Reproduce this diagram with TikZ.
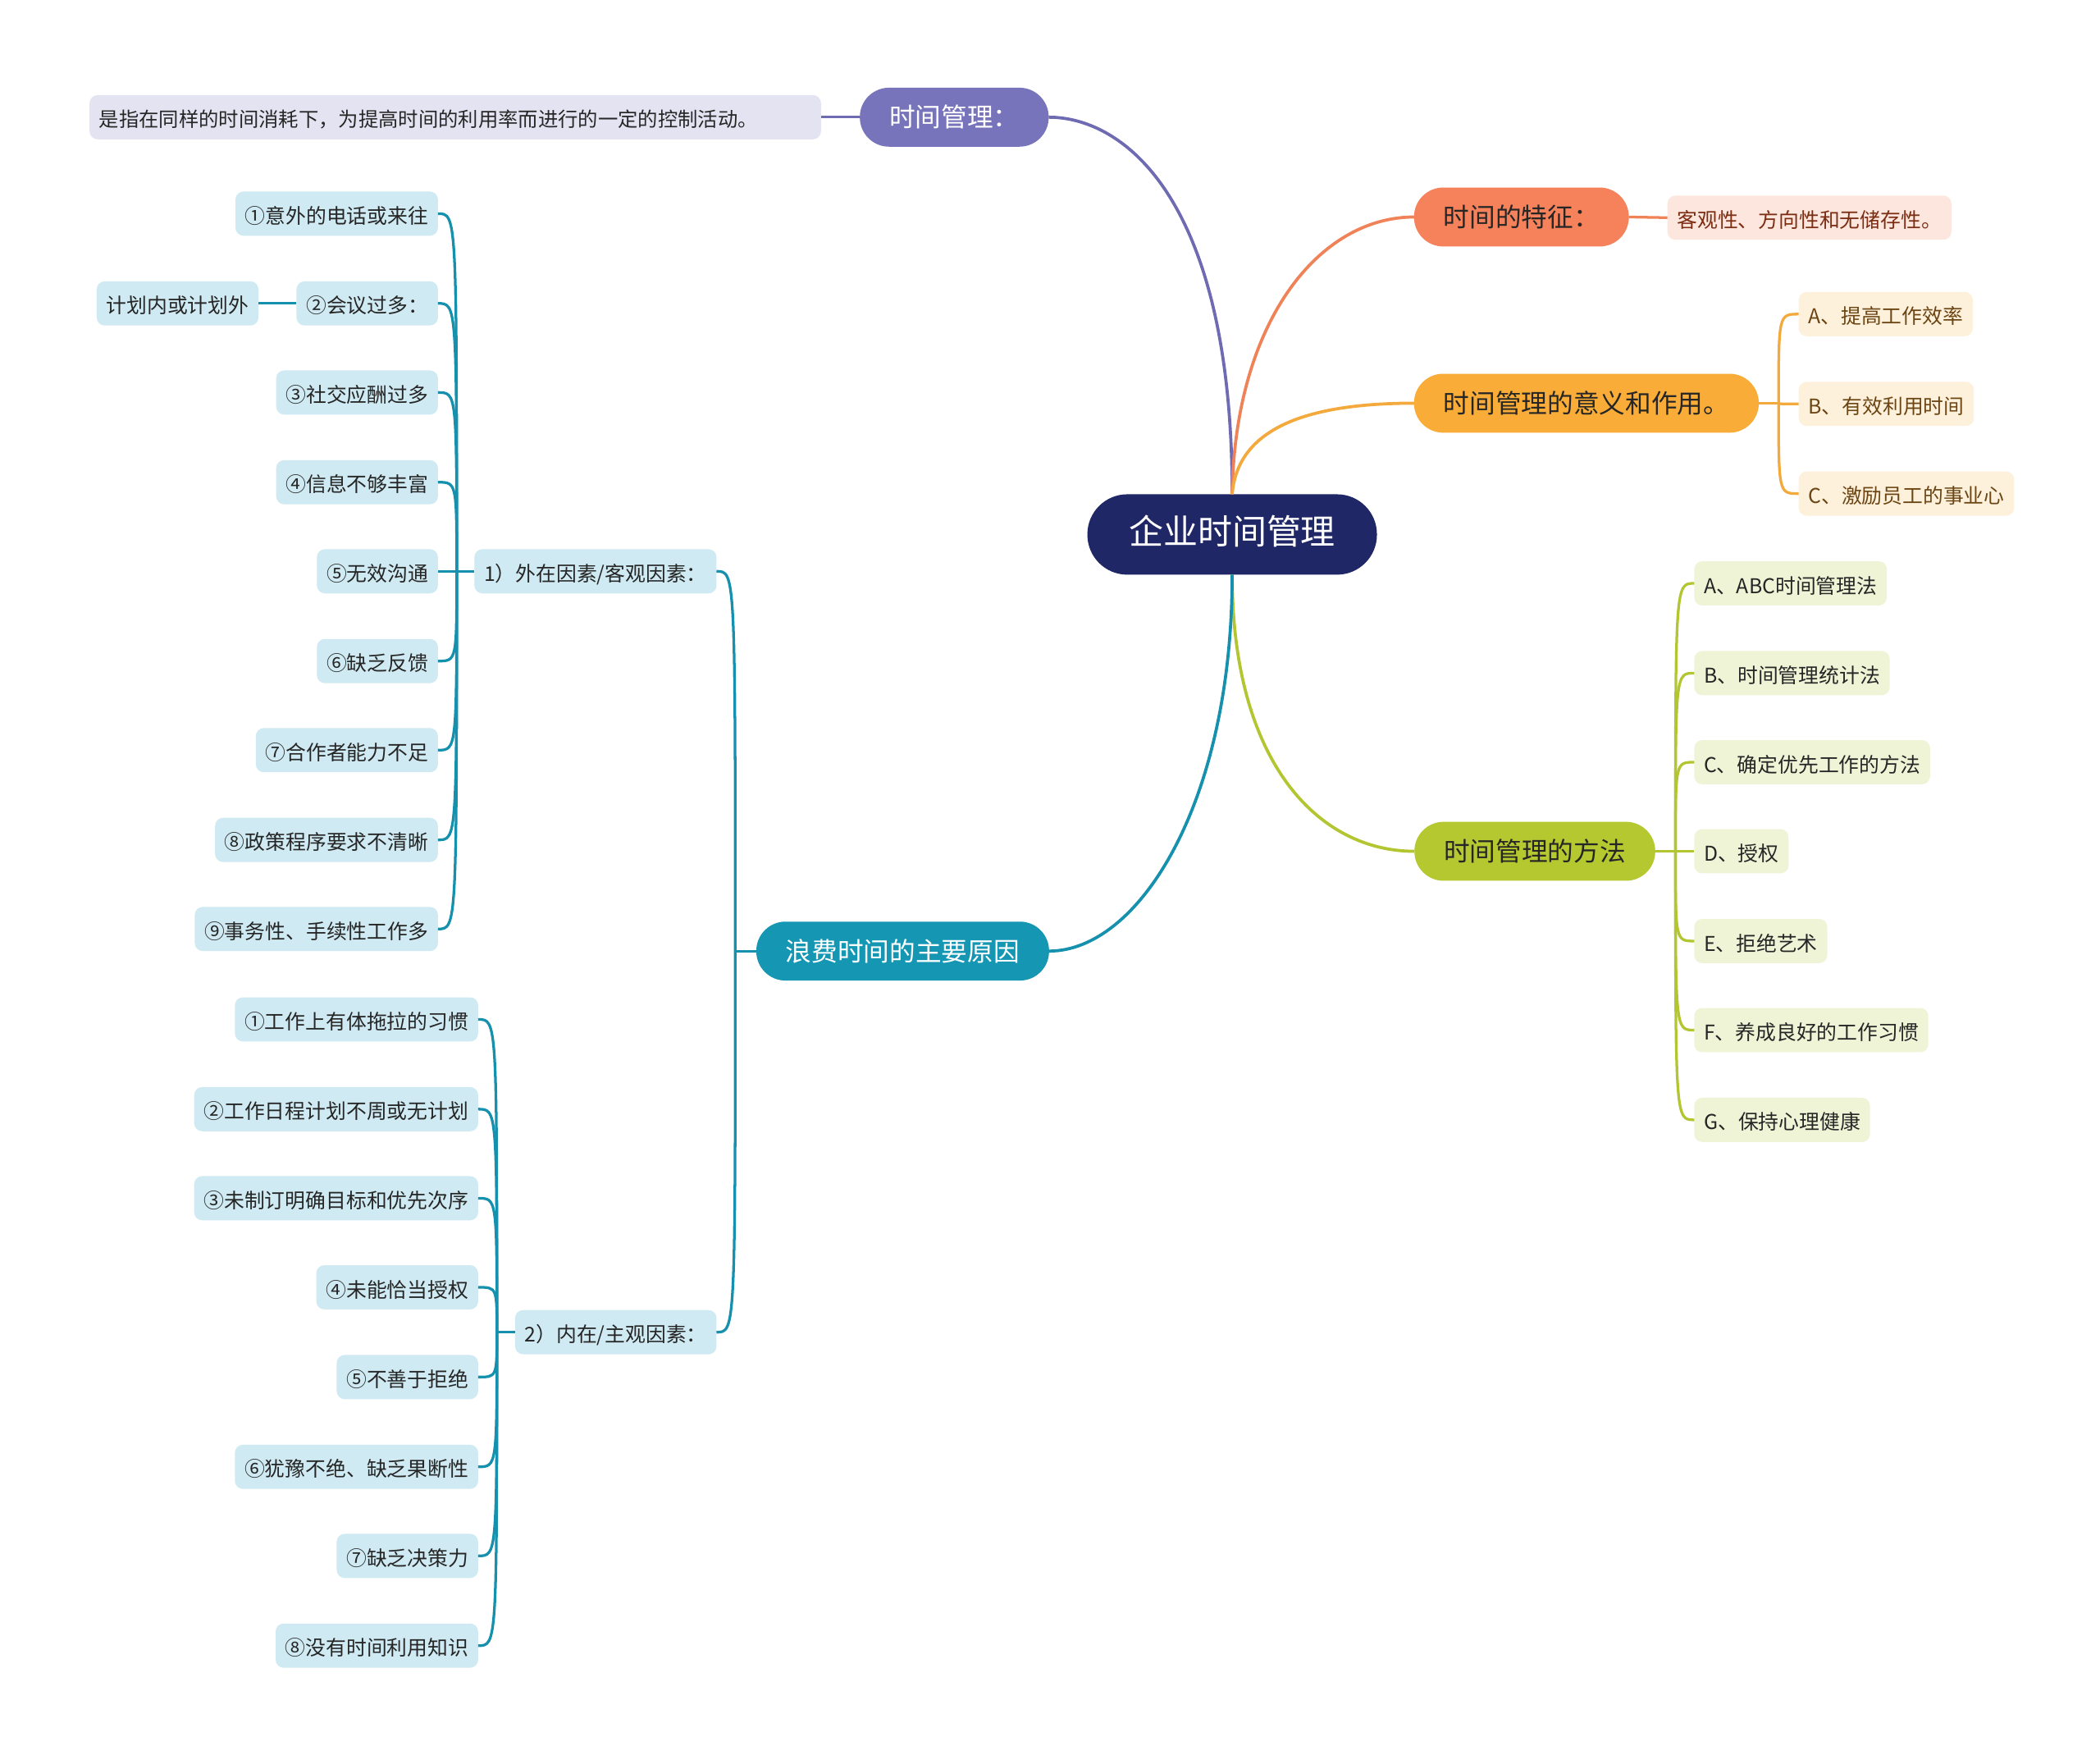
\documentclass[tikz,border=0pt]{standalone}
\usepackage{fontspec}
\setmainfont{Noto Sans CJK SC}
\definecolor{rootc}{HTML}{1F2766}
\definecolor{purp}{HTML}{7874BB}
\definecolor{purpl}{HTML}{6F6BB3}
\definecolor{descf}{HTML}{E4E3F2}
\definecolor{oran}{HTML}{F5825A}
\definecolor{oranl}{HTML}{F08258}
\definecolor{oranf}{HTML}{FDE6DD}
\definecolor{orant}{HTML}{7B2D12}
\definecolor{yell}{HTML}{F9AD38}
\definecolor{yelll}{HTML}{F4A93C}
\definecolor{yellf}{HTML}{FEF1DC}
\definecolor{yellt}{HTML}{6B4614}
\definecolor{gree}{HTML}{B5C82F}
\definecolor{greel}{HTML}{B3C631}
\definecolor{greef}{HTML}{EFF4D6}
\definecolor{teal}{HTML}{1597B4}
\definecolor{teall}{HTML}{1591AE}
\definecolor{tealf}{HTML}{CFEAF2}
\definecolor{txt}{HTML}{262626}
\begin{document}
\begin{tikzpicture}[x=0.5pt,y=-0.5pt,
  every node/.style={inner sep=0pt, outer sep=0pt, text height=0.82em, text depth=0.08em},
  rootn/.style={fill=rootc, text=white, rounded corners=14.9pt, minimum height=30pt, inner xsep=15.5pt, font=\fontsize{12.85pt}{14pt}\selectfont},
  lvl/.style={rounded corners=10.9pt, minimum height=22pt, inner xsep=11pt, font=\fontsize{9.7pt}{11pt}\selectfont},
  leaf/.style={rounded corners=3pt, minimum height=16.5pt, inner xsep=3.6pt, font=\fontsize{7.6pt}{9pt}\selectfont},
  tleaf/.style={leaf, fill=tealf, text=txt, anchor=east},
  gleaf/.style={leaf, fill=greef, text=txt, anchor=west},
  yleaf/.style={leaf, fill=yellf, text=yellt, anchor=west},
  mainln/.style={line width=1.15pt},
  subln/.style={line width=1pt},
]
\fill[white] (0,0) rectangle (1568,1310);
\useasboundingbox (0,0) rectangle (1568,1310);

% root
\node[rootn] (root) at (920,399) {企业时间管理};

% level 1
\node[lvl, fill=purp, text=white] (tm) at (712.5,87.5) {时间管理：};
\node[lvl, fill=oran, text=txt] (feat) at (1136,162) {时间的特征：};
\node[lvl, fill=yell, text=txt] (mean) at (1184.5,301) {时间管理的意义和作用。};
\node[lvl, fill=gree, text=txt] (meth) at (1146,635.5) {时间管理的方法};
\node[lvl, fill=teal, text=white] (waste) at (674,710) {浪费时间的主要原因};

% level 2
\node[leaf, fill=descf, text=txt, anchor=east, font=\fontsize{7.45pt}{9pt}\selectfont] (desc) at (613,87.5) {是指在同样的时间消耗下，为提高时间的利用率而进行的一定的控制活动。\hspace*{20pt}};
\node[leaf, fill=oranf, text=orant, anchor=west] (featd) at (1245,162.5) {客观性、方向性和无储存性。};

\node[yleaf] (ma) at (1343,234.5) {A、提高工作效率};
\node[yleaf] (mb) at (1343,301.5) {B、有效利用时间};
\node[yleaf] (mc) at (1343,368.5) {C、激励员工的事业心};

\node[gleaf] (ga) at (1265,435.5) {A、ABC时间管理法};
\node[gleaf] (gb) at (1265,502.5) {B、时间管理统计法};
\node[gleaf] (gc) at (1265,569) {C、确定优先工作的方法};
\node[gleaf] (gd) at (1265,635.5) {D、授权};
\node[gleaf] (ge) at (1265,702.5) {E、拒绝艺术};
\node[gleaf] (gf) at (1265,769) {F、养成良好的工作习惯};
\node[gleaf] (gg) at (1265,836) {G、保持心理健康};

\node[tleaf] (ext) at (535,426.5) {1）外在因素/客观因素：};
\node[tleaf] (int) at (535,994.5) {2）内在/主观因素：};

\node[tleaf] (e1) at (327,159.5) {①意外的电话或来往};
\node[tleaf] (e2) at (327,226.5) {②会议过多：};
\node[tleaf] (e3) at (327,293) {③社交应酬过多};
\node[tleaf] (e4) at (327,360) {④信息不够丰富};
\node[tleaf] (e5) at (327,426.5) {⑤无效沟通};
\node[tleaf] (e6) at (327,493.5) {⑥缺乏反馈};
\node[tleaf] (e7) at (327,560) {⑦合作者能力不足};
\node[tleaf] (e8) at (327,627) {⑧政策程序要求不清晰};
\node[tleaf] (e9) at (327,693.5) {⑨事务性、手续性工作多};
\node[tleaf] (plan) at (193,226.5) {计划内或计划外};

\node[tleaf] (i1) at (357,761) {①工作上有体拖拉的习惯};
\node[tleaf] (i2) at (357,828) {②工作日程计划不周或无计划};
\node[tleaf] (i3) at (357,894.5) {③未制订明确目标和优先次序};
\node[tleaf] (i4) at (357,961) {④未能恰当授权};
\node[tleaf] (i5) at (357,1028) {⑤不善于拒绝};
\node[tleaf] (i6) at (357,1095) {⑥犹豫不绝、缺乏果断性};
\node[tleaf] (i7) at (357,1161.5) {⑦缺乏决策力};
\node[tleaf] (i8) at (357,1228.5) {⑧没有时间利用知识};

% main connectors
\draw[mainln, purpl] (root.north) .. controls (920,150) and (840,87.5) .. (tm.east);
\draw[mainln, oranl] (root.north) .. controls (922,240) and (985,162) .. (feat.west);
\draw[mainln, yelll] (root.north) .. controls (924,320) and (975,301) .. (mean.west);
\draw[mainln, greel] (root.south) .. controls (920,570) and (985,635.5) .. (meth.west);
\draw[mainln, teall] (root.south) .. controls (920,600) and (850,710) .. (waste.east);

% straight ones
\draw[subln, purpl] (tm.west) -- (desc.east);
\draw[subln, oranl] (feat.east) -- (featd.west);
\draw[subln, teall] (e2.west) -- (plan.east);

% hubs
\coordinate (mh) at (1328,301);
\coordinate (gh) at (1251,635.5);
\coordinate (wh) at (549,710);
\coordinate (eh) at (341,426.5);
\coordinate (ih) at (371,994.5);

\draw[subln, yelll] (mean.east) -- (mh);
\foreach \n in {ma,mb,mc}
  \draw[subln, yelll] (mh) .. controls (mh |- \n.west) .. (\n.west);

\draw[subln, greel] (meth.east) -- (gh);
\foreach \n in {ga,gb,gc,gd,ge,gf,gg}
  \draw[subln, greel] (gh) .. controls (gh |- \n.west) .. (\n.west);

\draw[subln, teall] (waste.west) -- (wh);
\foreach \n in {ext,int}
  \draw[subln, teall] (wh) .. controls (wh |- \n.east) .. (\n.east);

\draw[subln, teall] (ext.west) -- (eh);
\foreach \n in {e1,e2,e3,e4,e5,e6,e7,e8,e9}
  \draw[subln, teall] (eh) .. controls (eh |- \n.east) .. (\n.east);

\draw[subln, teall] (int.west) -- (ih);
\foreach \n in {i1,i2,i3,i4,i5,i6,i7,i8}
  \draw[subln, teall] (ih) .. controls (ih |- \n.east) .. (\n.east);
\end{tikzpicture}
\end{document}
